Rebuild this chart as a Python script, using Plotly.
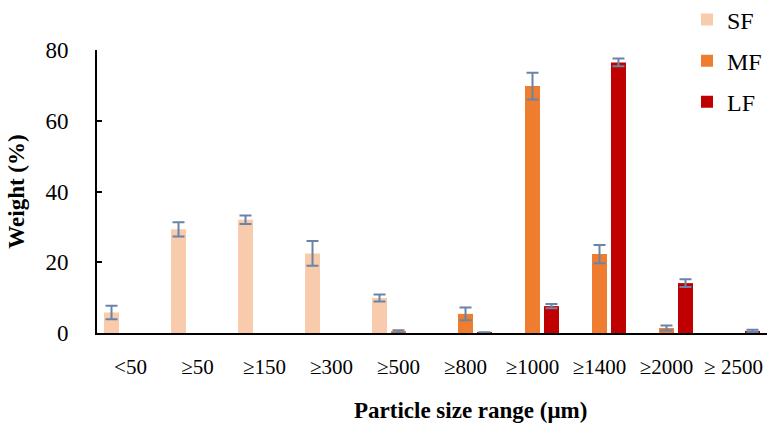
import plotly.graph_objects as go

categories = ["<50", "≥50", "≥150", "≥300", "≥500", "≥800", "≥1000", "≥1400", "≥2000", "≥ 2500"]
sf_values = [5.8, 29.3, 32.0, 22.5, 9.9, None, None, None, None, None]
sf_errors = [1.9, 2.0, 1.2, 3.5, 1.0, None, None, None, None, None]
mf_values = [None, None, None, None, 0.4, 5.4, 69.8, 22.3, 1.4, None]
mf_errors = [None, None, None, None, 0.4, 1.8, 3.8, 2.6, 0.7, None]
lf_values = [None, None, None, None, None, 0.1, 7.6, 76.5, 14.1, 0.6]
lf_errors = [None, None, None, None, None, 0.1, 0.6, 1.1, 1.1, 0.3]

err_color = "#6A84A8"
font_family = "Liberation Serif"

fig = go.Figure()
for name, vals, errs, color in [
    ("SF", sf_values, sf_errors, "#F8CBAD"),
    ("MF", mf_values, mf_errors, "#EE7D30"),
    ("LF", lf_values, lf_errors, "#C00000"),
]:
    fig.add_trace(go.Bar(
        x=categories, y=vals, name=name, legendgroup=name,
        marker=dict(color=color, line=dict(width=0)),
        error_y=dict(type="data", array=errs, visible=True, color=err_color,
                     thickness=2, width=6),
    ))

fig.update_layout(
    width=768, height=432,
    margin=dict(l=97, r=1, t=50, b=99, autoexpand=False),
    paper_bgcolor="white", plot_bgcolor="white",
    barmode="group", bargap=0.15, bargroupgap=0.21,
    font=dict(family=font_family, color="black", size=21),
    showlegend=True,
    legend=dict(x=1.0, xanchor="right", y=1.186, yanchor="top",
                font=dict(size=24, family=font_family),
                tracegroupgap=7, traceorder="grouped",
                itemwidth=30,
                bgcolor="rgba(0,0,0,0)"),
    xaxis=dict(
        type="category", range=[-0.5, 9.5],
        showline=True, linecolor="black", linewidth=2,
        ticks="", showgrid=False, zeroline=False,
        tickfont=dict(size=21), ticklabelstandoff=14,
    ),
    yaxis=dict(
        range=[0, 80], tickvals=[0, 20, 40, 60, 80],
        showline=True, linecolor="black", linewidth=2,
        ticks="inside", ticklen=5, tickcolor="black", tickwidth=1.5,
        showgrid=False, zeroline=False,
        tickfont=dict(size=23), ticklabelstandoff=22,
        title=dict(text="<b>Weight (%)</b>", font=dict(size=23), standoff=14),
    ),
    annotations=[dict(
        text="<b>Particle size range (μm)</b>", xref="paper", yref="paper",
        x=0.557, y=-0.275, xanchor="center", yanchor="middle",
        showarrow=False, font=dict(size=23, family=font_family, color="black"),
    )],
)

fig.write_html("out.html")
